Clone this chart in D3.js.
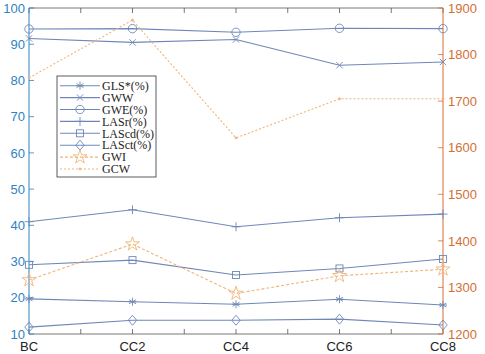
<!DOCTYPE html>
<html><head><meta charset="utf-8">
<script src="https://cdn.jsdelivr.net/npm/d3@7"></script>
<style>body{margin:0;background:#fff}svg{display:block}</style>
</head><body><div id="c"></div>
<script>
const categories = ["BC","CC2","CC4","CC6","CC8"];
const GLS  = [19.7, 18.9, 18.2, 19.6, 18.0];
const GWW  = [91.6, 90.5, 91.3, 84.2, 85.1];
const GWE  = [94.2, 94.3, 93.3, 94.4, 94.3];
const LASr = [41.0, 44.3, 39.6, 42.1, 43.1];
const LAScd= [29.1, 30.4, 26.3, 28.1, 30.7];
const LASct= [11.9, 13.8, 13.8, 14.1, 12.5];
const GWI  = [1316, 1393, 1287, 1325, 1339];
const GCW  = [1750, 1874, 1621, 1705, 1705];
const leftTicks = [10,20,30,40,50,60,70,80,90,100];
const rightTicks = [1200,1300,1400,1500,1600,1700,1800,1900];

const W=485,H=354, L=29, R=443, T=8, B=334;
const blue="#6f87b8", orange="#f0b478", lcol="#2f82c2", rcol="#d46f32";
const svg=d3.select("#c").append("svg").attr("width",W).attr("height",H);
const x=d3.scaleLinear().domain([0,4]).range([L,R]);
const yl=d3.scaleLinear().domain([10,100]).range([B,T]);
const yr=d3.scaleLinear().domain([1200,1900]).range([B,T]);

svg.append("line").attr("x1",L).attr("x2",R).attr("y1",T).attr("y2",T).attr("stroke","#555").attr("stroke-width",0.8);
svg.append("line").attr("x1",L).attr("x2",R).attr("y1",B).attr("y2",B).attr("stroke","#555").attr("stroke-width",0.8);
const xt=d3.range(0,4.01,0.5);
xt.forEach(v=>{
  svg.append("line").attr("x1",x(v)).attr("x2",x(v)).attr("y1",B).attr("y2",B-5).attr("stroke","#555").attr("stroke-width",0.8);
  svg.append("line").attr("x1",x(v)).attr("x2",x(v)).attr("y1",T).attr("y2",T+5).attr("stroke","#555").attr("stroke-width",0.8);
});
svg.append("line").attr("x1",L).attr("x2",L).attr("y1",T).attr("y2",B).attr("stroke",lcol).attr("stroke-width",1);
leftTicks.forEach(v=>{
  svg.append("line").attr("x1",L).attr("x2",L+5).attr("y1",yl(v)).attr("y2",yl(v)).attr("stroke",lcol).attr("stroke-width",0.8);
  svg.append("text").attr("x",L-4).attr("y",yl(v)).attr("dy","0.36em").attr("text-anchor","end")
   .attr("font-family","Liberation Sans, Arial, sans-serif").attr("font-size",13).attr("fill",lcol).text(v);
});
svg.append("line").attr("x1",R).attr("x2",R).attr("y1",T).attr("y2",B).attr("stroke",rcol).attr("stroke-width",1);
rightTicks.forEach(v=>{
  svg.append("line").attr("x1",R).attr("x2",R-5).attr("y1",yr(v)).attr("y2",yr(v)).attr("stroke",rcol).attr("stroke-width",0.8);
  svg.append("text").attr("x",R+5).attr("y",yr(v)).attr("dy","0.36em").attr("text-anchor","start")
   .attr("font-family","Liberation Sans, Arial, sans-serif").attr("font-size",13).attr("fill",rcol).text(v);
});
categories.forEach((c,i)=>{
  svg.append("text").attr("x",x(i)).attr("y",351).attr("text-anchor","middle")
   .attr("font-family","Liberation Sans, Arial, sans-serif").attr("font-size",13).attr("fill","#222").text(c);
});

function marker(g,type,cx,cy,col){
  const s=g.append("g").attr("transform",`translate(${cx},${cy})`).attr("fill","none").attr("stroke",col).attr("stroke-width",0.9);
  if(type==="ast"){ for(let a=0;a<180;a+=60){const r=a*Math.PI/180;s.append("line").attr("x1",-4*Math.sin(r)).attr("y1",-4*Math.cos(r)).attr("x2",4*Math.sin(r)).attr("y2",4*Math.cos(r));}
    s.append("line").attr("x1",-4).attr("x2",4).attr("y1",0).attr("y2",0);}
  else if(type==="x"){ s.append("path").attr("d","M-3.2,-3.2L3.2,3.2M-3.2,3.2L3.2,-3.2"); }
  else if(type==="circle"){ s.append("circle").attr("r",4.2); }
  else if(type==="plus"){ s.append("path").attr("d","M0,-4.5L0,4.5M-4.5,0L4.5,0"); }
  else if(type==="square"){ s.append("rect").attr("x",-3.5).attr("y",-3.5).attr("width",7).attr("height",7); }
  else if(type==="diamond"){ s.append("path").attr("d","M0,-5L4.2,0L0,5L-4.2,0Z"); }
  else if(type==="star"){ s.append("path").attr("d",d3.symbol().type(d3.symbolStar).size(60)()); }
  else if(type==="dot"){ s.append("circle").attr("r",1).attr("fill",col); }
}
const series=[
  {name:"GLS*(%)",data:GLS,m:"ast",col:blue,dash:null,ax:yl},
  {name:"GWW",data:GWW,m:"x",col:blue,dash:null,ax:yl},
  {name:"GWE(%)",data:GWE,m:"circle",col:blue,dash:null,ax:yl},
  {name:"LASr(%)",data:LASr,m:"plus",col:blue,dash:null,ax:yl},
  {name:"LAScd(%)",data:LAScd,m:"square",col:blue,dash:null,ax:yl},
  {name:"LASct(%)",data:LASct,m:"diamond",col:blue,dash:null,ax:yl},
  {name:"GWI",data:GWI,m:"star",col:orange,dash:"3,2",ax:yr},
  {name:"GCW",data:GCW,m:"dot",col:orange,dash:"2,2",ax:yr}
];
const g=svg.append("g");
series.forEach(s=>{
  const line=d3.line().x((d,i)=>x(i)).y(d=>s.ax(d));
  g.append("path").attr("d",line(s.data)).attr("fill","none").attr("stroke",s.col).attr("stroke-width",1.1).attr("stroke-dasharray",s.dash);
  s.data.forEach((d,i)=>marker(g,s.m,x(i),s.ax(d),s.col));
});
const lg=svg.append("g");
lg.append("rect").attr("x",57).attr("y",76).attr("width",99).attr("height",101).attr("fill","#fff").attr("stroke","#333").attr("stroke-width",0.8);
series.forEach((s,i)=>{
  const yy=85.7+i*11.9;
  lg.append("line").attr("x1",60).attr("x2",100).attr("y1",yy).attr("y2",yy).attr("stroke",s.col).attr("stroke-width",1.1).attr("stroke-dasharray",s.dash);
  marker(lg,s.m,80,yy,s.col);
  lg.append("text").attr("x",102).attr("y",yy).attr("dy","0.35em").attr("font-family","Liberation Serif, Times New Roman, serif")
    .attr("font-size",12).attr("fill","#222").text(s.name);
});
</script></body></html>
